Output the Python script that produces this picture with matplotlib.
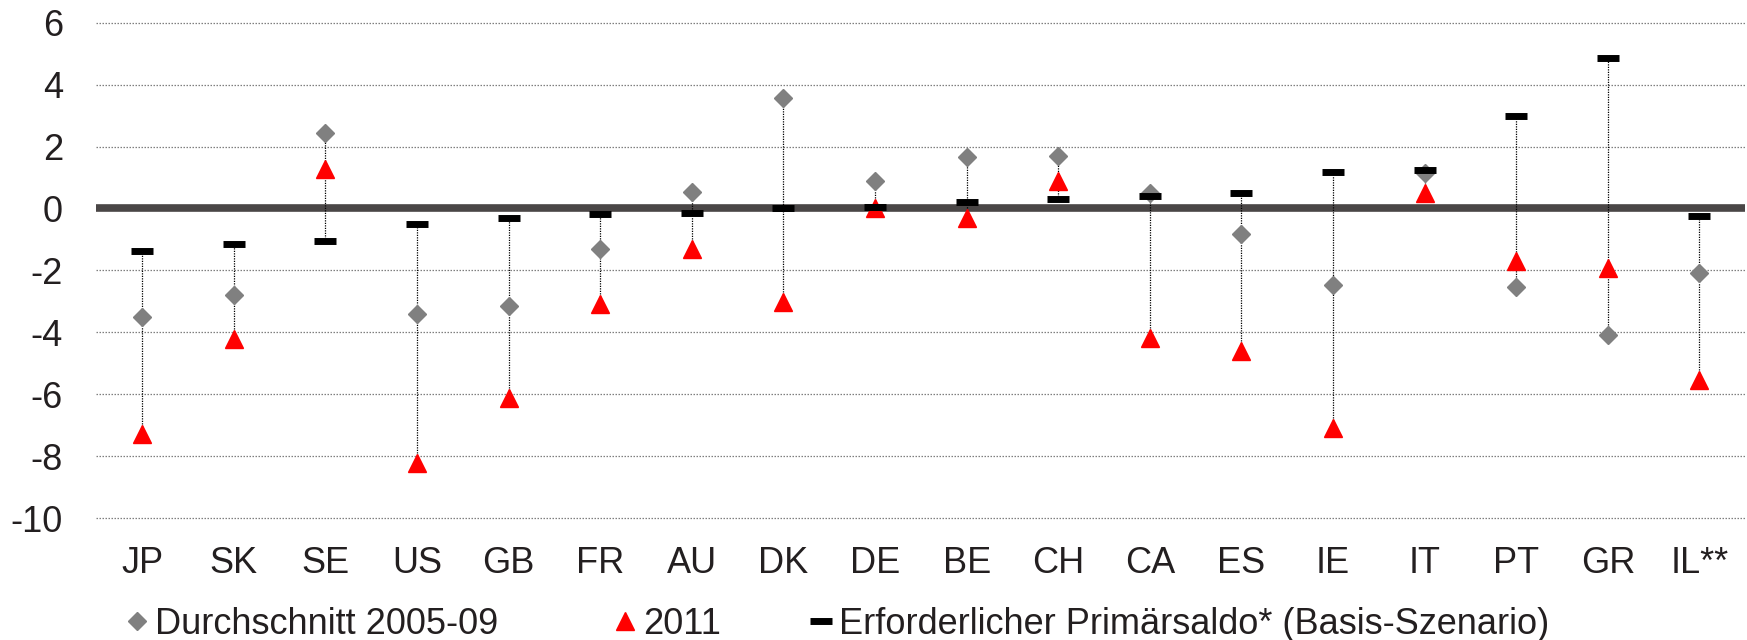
import numpy as np
import matplotlib.pyplot as plt

plt.rcParams['font.family'] = ['Liberation Sans', 'DejaVu Sans']
plt.rcParams['axes.unicode_minus'] = False

# Länder und Werte (Primärsaldo in % des BIP)
countries = ['JP', 'SK', 'SE', 'US', 'GB', 'FR', 'AU', 'DK', 'DE', 'BE',
             'CH', 'CA', 'ES', 'IE', 'IT', 'PT', 'GR', 'IL**']
avg_2005_09 = [-3.52, -2.79, 2.43, -3.41, -3.14, -1.30, 0.53, 3.56, 0.88, 1.66,
               1.69, 0.50, -0.82, -2.46, 1.13, -2.54, -4.10, -2.08]
val_2011 = [-7.3, -4.23, 1.29, -8.21, -6.13, -3.10, -1.30, -3.02, 0.0, -0.30,
            0.90, -4.20, -4.60, -7.10, 0.51, -1.70, -1.91, -5.53]
required = [-1.37, -1.15, -1.06, -0.49, -0.30, -0.17, -0.16, 0.02, 0.05, 0.21,
            0.30, 0.40, 0.49, 1.17, 1.25, 2.99, 4.86, -0.24]

x = np.arange(len(countries))
all_vals = np.array([avg_2005_09, val_2011, required])
lo = all_vals.min(axis=0)
hi = all_vals.max(axis=0)

fig = plt.figure(figsize=(17.47, 6.4), dpi=100)
ax = fig.add_axes([0.0552, 0.1906, 0.9438, 0.7739])

# Gitterlinien
for yv in [6, 4, 2, -2, -4, -6, -8, -10]:
    ax.axhline(yv, color='#7f7f7f', lw=0.9, ls=(0, (1.2, 1.2)), zorder=0,
               clip_on=False)
ax.axhline(0, color='#4a4646', lw=5.5, zorder=1)

# Hoch-Tief-Linien
ax.vlines(x, lo, hi, colors='black', lw=0.9, linestyles=(0, (1, 1)), zorder=2)

h1, = ax.plot(x, avg_2005_09, ls='none', marker='D', ms=8.7, color='#808080',
              label='Durchschnitt 2005-09', zorder=3)
h2, = ax.plot(x, val_2011, ls='none', marker='^', ms=12.5, color='#ff0000',
              label='2011', zorder=4)
h3, = ax.plot(x, required, ls='none', marker='_', ms=16.5, mew=5, color='black',
              label='Erforderlicher Primärsaldo* (Basis-Szenario)', zorder=5)

ax.set_xlim(-0.5, len(countries) - 0.5)
ax.set_ylim(-10, 6)
ax.set_yticks(np.arange(-10, 7, 2))
ax.set_xticks(x)
ax.set_xticklabels(countries)
ax.tick_params(axis='both', length=0, labelsize=26, colors='#231f20')
ax.tick_params(axis='y', pad=24)
ax.tick_params(axis='x', pad=20)
for s in ax.spines.values():
    s.set_visible(False)

# Legende unten, Einträge einzeln platziert
for h, xpos in zip([h1, h2, h3], [0.0722, 0.3515, 0.4637]):
    fig.legend(handles=[h], loc='center left', bbox_to_anchor=(xpos, 0.025),
               frameon=False, fontsize=26, handlelength=0.6,
               handletextpad=0.2, borderpad=0, borderaxespad=0,
               labelcolor='#231f20')

fig.savefig('out.png', dpi=100)
